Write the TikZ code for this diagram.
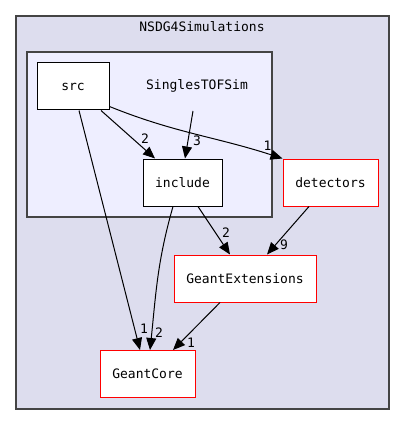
\documentclass[tikz,border=0pt]{standalone}
\usepackage{fontspec}
\usepackage{tikz}
\usetikzlibrary{arrows.meta}
\newfontfamily\dirfont{DejaVu Sans Mono}
\definecolor{outerbg}{HTML}{DDDDEE}
\definecolor{innerbg}{HTML}{EEEEFF}
\definecolor{frame}{HTML}{444444}

\begin{document}
\begin{tikzpicture}[x=1pt, y=-1pt,
  font=\dirfont\fontsize{13}{15}\selectfont,
  dirbox/.style={draw=red, line width=1pt, fill=white, minimum width=#1, minimum height=47pt, inner sep=0pt},
  subbox/.style={draw=black, line width=1pt, fill=white, minimum width=#1, minimum height=47pt, inner sep=0pt},
  dep/.style={-{Triangle[length=12pt,width=10pt]}, line width=1pt},
  lbl/.style={inner sep=0pt}]

  \useasboundingbox (0,0) rectangle (405,425);

  % clusters
  \draw[frame, fill=outerbg, line width=1.3pt] (16,16) rectangle (389,409);
  \node[lbl] (outer) at (202,27) {NSDG4Simulations};
  \draw[frame, fill=innerbg, line width=1.3pt] (27,52) rectangle (272,217);
  \node[lbl] (inner) at (197,86) {SinglesTOFSim};
  \coordinate (innerdep) at (193,111);

  \node[subbox=72pt] (src) at (73,86.5) {src};
  \node[subbox=79pt] (include) at (182.5,182.5) {include};
  \node[dirbox=95pt] (detectors) at (330.5,182.5) {detectors};
  \node[dirbox=142pt] (ext) at (245,278.5) {GeantExtensions};
  \node[dirbox=95pt] (core) at (147.5,374) {GeantCore};

  \draw[dep] ([xshift=28pt]src.south) -- ([xshift=-27.5pt]include.north)
    node[lbl, at end, xshift=-10pt, yshift=20pt]{2}; %% src->include
  \draw[dep] (innerdep) -- ([xshift=2.5pt]include.north)
    node[lbl, at end, xshift=12pt, yshift=18pt]{3}; %% SinglesTOFSim->include
  \draw[dep] ([yshift=4pt]src.south east) to[out=-22, in=162]
    node[lbl, at end, xshift=-15pt, yshift=13pt]{1} (detectors.north west); %% src->detectors
  \draw[dep] ([xshift=6pt]src.south) -- ([xshift=-7.5pt]core.north)
    node[lbl, at end, xshift=4pt, yshift=21pt]{1}; %% src->core
  \draw[dep] ([xshift=-9.5pt]include.south) to[out=-106, in=84]
    node[lbl, at end, xshift=9pt, yshift=17pt]{2} ([xshift=2.5pt]core.north); %% include->core
  \draw[dep] ([xshift=15.5pt]include.south) -- ([xshift=-15pt]ext.north)
    node[lbl, at end, xshift=-4pt, yshift=22pt]{2}; %% include->ext
  \draw[dep] ([xshift=-21.5pt]detectors.south) -- ([xshift=22pt]ext.north)
    node[lbl, at end, xshift=17pt, yshift=10pt]{9}; %% detectors->ext
  \draw[dep] ([xshift=-25pt]ext.south) -- ([xshift=25.5pt]core.north)
    node[lbl, at end, xshift=18pt, yshift=7pt]{1}; %% ext->core
\end{tikzpicture}
\end{document}
